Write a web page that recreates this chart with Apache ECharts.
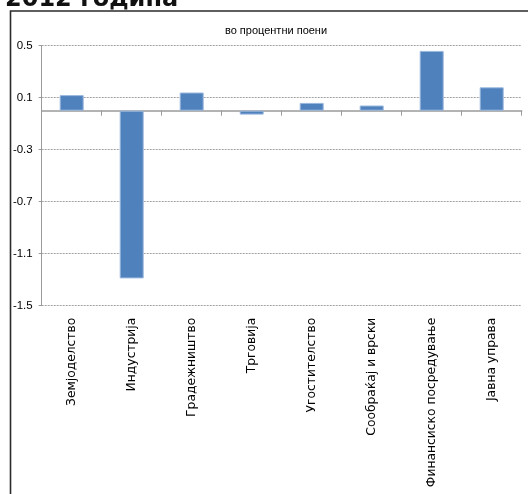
<!DOCTYPE html>
<html>
<head>
<meta charset="utf-8">
<script src="https://cdn.jsdelivr.net/npm/echarts@6/dist/echarts.min.js"></script>
<style>
  html, body { margin: 0; padding: 0; background: #fff; }
  #chart { width: 528px; height: 494px; }
</style>
</head>
<body>
<div id="chart"></div>
<script>
// Sector contributions, in percentage points
const sectors = [
  'Земјоделство',
  'Индустрија',
  'Градежништво',
  'Трговија',
  'Угостителство',
  'Сообраќај и врски',
  'Финансиско посредување',
  'Јавна управа'
];
const contributions = [0.12, -1.29, 0.14, -0.03, 0.06, 0.04, 0.46, 0.18];

const titleText = '2012 година';
const unitText = 'во процентни поени';

const yMin = -1.5;
const yMax = 0.5;
const yStep = 0.4;

const narrowFont = '"Liberation Sans Narrow", "Arial Narrow", sans-serif';

const chart = echarts.init(document.getElementById('chart'), null, { renderer: 'canvas' });

chart.setOption({
  animation: false,
  backgroundColor: '#ffffff',
  graphic: [
    {
      type: 'rect',
      shape: { x: 10.5, y: 11, width: 540, height: 520 },
      style: { fill: 'none', stroke: '#2b2b2b', lineWidth: 1.6 },
      silent: true
    },
    {
      type: 'text',
      left: 5,
      top: -12,
      style: {
        text: titleText,
        font: 'bold 24px "DejaVu Sans", sans-serif',
        fill: '#111'
      }
    },
    {
      type: 'text',
      x: 276,
      y: 31,
      style: {
        text: unitText,
        font: '11px ' + narrowFont,
        fill: '#000',
        align: 'center',
        verticalAlign: 'middle'
      }
    }
  ],
  grid: {
    left: 41.7,
    right: 6.3,
    top: 45.7,
    bottom: 188.3,
    containLabel: false
  },
  xAxis: [
    {
      type: 'category',
      data: sectors,
      position: 'bottom',
      axisLine: { show: false, onZero: false },
      axisTick: { show: false },
      axisLabel: {
        rotate: 90,
        margin: 12,
        interval: 0,
        color: '#000',
        fontSize: 12.3,
        fontFamily: '"DejaVu Sans", sans-serif'
      },
      splitLine: { show: false }
    },
    {
      type: 'category',
      data: sectors,
      position: 'top',
      axisLine: { show: true, onZero: true, lineStyle: { color: '#9a9a9a', width: 1.5 } },
      axisTick: { show: true, inside: true, length: 5, interval: 0, alignWithLabel: false, lineStyle: { color: '#9a9a9a', width: 1 } },
      axisLabel: { show: false, interval: 0 },
      splitLine: { show: false }
    }
  ],
  yAxis: {
    type: 'value',
    min: yMin,
    max: yMax,
    interval: yStep,
    axisLine: { show: true, lineStyle: { color: '#9a9a9a', width: 1 } },
    axisTick: { show: true, length: 3, lineStyle: { color: '#9a9a9a' } },
    axisLabel: {
      margin: 9,
      color: '#000',
      fontSize: 11.5,
      fontFamily: narrowFont,
      formatter: v => (Math.round(v * 10) / 10).toFixed(1)
    },
    splitLine: {
      show: true,
      lineStyle: { color: '#a3a3a3', type: [2, 1], width: 1 }
    }
  },
  series: [
    {
      type: 'bar',
      xAxisIndex: 0,
      data: contributions,
      barWidth: '40%',
      itemStyle: {
        color: '#4f81bd',
        borderColor: '#9ab8dd',
        borderWidth: 1
      }
    }
  ]
});
</script>
</body>
</html>
